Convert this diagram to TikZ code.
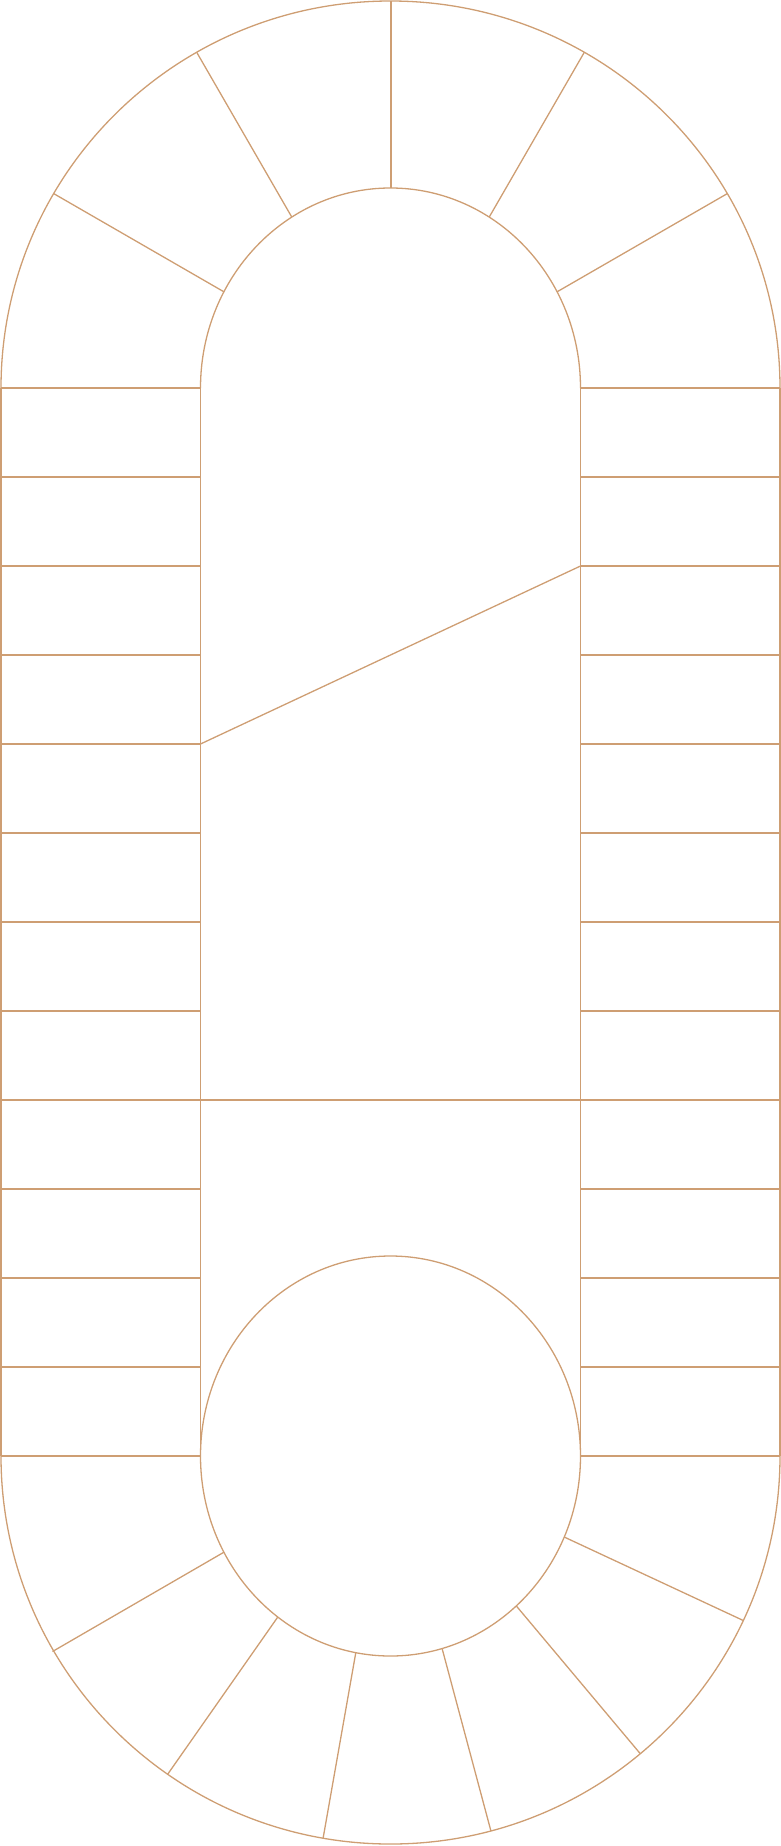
\documentclass[tikz,border=0pt]{standalone}
\usepackage{tikz}
\definecolor{tan}{HTML}{CE9E73}
\begin{document}
\begin{tikzpicture}[x=1pt,y=-1pt,
  ln/.style={draw=tan,line width=1.3pt}]
\useasboundingbox (0,0) rectangle (781,1846);
% top outer and inner arcs
\draw[ln] (1,388) arc[start angle=180,end angle=360,x radius=389.5,y radius=387];
\draw[ln] (200.5,388) arc[start angle=180,end angle=360,x radius=190,y radius=200];
% bottom outer arc and ellipse
\draw[ln] (1,1456) arc[start angle=180,end angle=0,x radius=389.5,y radius=388];
\draw[ln] (390.5,1456) ellipse[x radius=190,y radius=200];
% verticals
\draw[ln] (1,388) -- (1,1456);
\draw[ln] (780,388) -- (780,1456);
\draw[ln] (200.5,388) -- (200.5,1456);
\draw[ln] (580.5,388) -- (580.5,1456);
% horizontals
\foreach \k in {0,...,12}{
  \draw[ln] (1,388+89*\k) -- (200.5,388+89*\k);
  \draw[ln] (580.5,388+89*\k) -- (780,388+89*\k);
}
% middle lines
\draw[ln] (200.5,1100) -- (580.5,1100);
\draw[ln] (200.5,744) -- (580.5,566);
% top spokes
\draw[ln] (557.1,291.8) -- (727.3,193.6);
\draw[ln] (489.2,217.1) -- (584.3,52.3);
\draw[ln,line width=2pt] (390.5,188) -- (390.5,1);
\draw[ln] (291.8,217.1) -- (196.7,52.3);
\draw[ln] (223.9,291.8) -- (53.7,193.6);
% bottom spokes
\draw[ln] (564.2,1537.0) -- (743.3,1620.5);
\draw[ln] (516.3,1605.9) -- (640.3,1753.7);
\draw[ln] (442.1,1648.5) -- (490.9,1830.9);
\draw[ln] (355.8,1652.6) -- (323.1,1838.2);
\draw[ln] (277.8,1617.0) -- (167.7,1774.2);
\draw[ln] (223.9,1552.2) -- (52.5,1651.5);
\end{tikzpicture}
\end{document}
